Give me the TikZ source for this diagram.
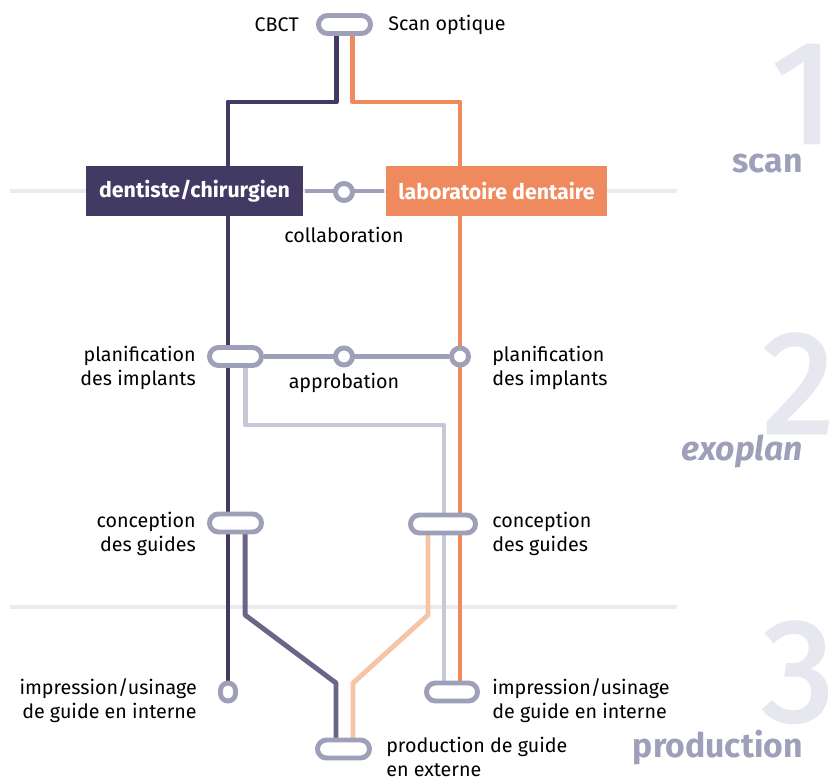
\documentclass[tikz,border=0pt]{standalone}
\usepackage{fontspec}
\setmainfont{Fira Sans}
\newfontfamily\numfont{Fira Sans}[FakeBold=2]
\usetikzlibrary{calc,backgrounds}

\definecolor{dentcol}{HTML}{433A64}
\definecolor{labcol}{HTML}{EF8A5F}
\definecolor{stopcol}{HTML}{9EA0B9}
\definecolor{plancol}{HTML}{C6C7D7}
\definecolor{guidecol}{HTML}{6E6389}
\definecolor{extcol}{HTML}{F8C4A6}
\definecolor{sepcol}{HTML}{EAEAF0}
\definecolor{numcol}{HTML}{E7E7EF}

\begin{document}
\begin{tikzpicture}[x=0.025cm,y=-0.025cm,line width=3.5pt,
    track/.style={line width=3.5pt,line join=round},
    pill/.style={rectangle,draw=stopcol,fill=white,rounded corners=0.225cm,minimum width=1.3cm,minimum height=0.45cm,inner sep=0pt},
    stopc/.style={circle,draw=stopcol,fill=white,minimum size=0.425cm,inner sep=0pt},
    box/.style={rectangle,minimum height=1.25cm,inner sep=0pt,text=white,font=\fontsize{15.2}{18}\selectfont\bfseries},
    lbl/.style={font=\fontsize{14}{17}\selectfont,inner sep=0pt},
    phase/.style={font=\fontsize{24}{24}\selectfont\bfseries,text=stopcol,inner sep=0pt,anchor=base east},
    bignum/.style={font=\fontsize{104}{104}\numfont,text=numcol,inner sep=0pt,text depth=0pt,anchor=base east}]

            \useasboundingbox (0,0) rectangle (840,780);

            % stations
            \path   (344.5,24.5) node (cbct) [pill] {}
                    (194.5,191) node (dent) [box,fill=dentcol,minimum width=5.425cm] {dentiste/chirurgien}
                    (496.5,191) node (labo) [box,fill=labcol,minimum width=5.525cm] {laboratoire dentaire}
                    (344,192) node (collab) [stopc] {}
                    (235.5,356.5) node (plana) [pill] {}
                    (344,356.5) node (approb) [stopc] {}
                    (460,356.5) node (planb) [stopc] {}
                    (235.5,523) node (conca) [pill] {}
                    (443,524) node (concb) [pill,minimum width=1.625cm] {}
                    (228,692) node (impa) [pill,minimum width=0.375cm,minimum height=0.45cm,rounded corners=0.1875cm] {}
                    (452,692) node (impb) [pill,minimum width=1.275cm] {}
                    (343.5,749) node (prod) [pill] {};

            \coordinate (dkbend) at (228,102);
            \coordinate (lbbend) at (460,102);
            \coordinate (plbend) at (444,425);
            \coordinate (gdbend) at (336,683);
            \coordinate (exbend) at (353,683);

            \begin{pgfonlayer}{background}
            % phases
            \draw[sepcol,line width=2.2pt] (10,191) -- (677,191);
            \draw[sepcol,line width=2.2pt] (10,607) -- (677,607);
            \path   (835,143) node (n1) [bignum] {1}
                    (835,433) node (n2) [bignum] {2}
                    (835,721) node (n3) [bignum] {3}
                    (803,173) node (scan) [phase] {scan}
                    (803,460) node (exo) [phase] {\itshape exoplan}
                    (803,757) node (prodph) [phase] {production};

            % lines
            \draw[track,stopcol] (node cs: name =dent) -- (node cs: name =labo);
            \draw[track,stopcol] (node cs: name =plana) -- (node cs: name =planb);
            \draw[track,plancol] ([xshift=0.24cm]plana.center) |- (plbend) -- (plbend |- impb.center);
            \draw[track,guidecol] ([xshift=0.24cm]conca.center) -- ++(0,92) -- (gdbend) -- (gdbend |- prod.center);
            \draw[track,extcol] ([xshift=-0.375cm]concb.center) -- ++(0,91) -- (exbend) -- (exbend |- prod.center);
            \draw[track,dentcol] ([xshift=-0.21cm]cbct.center) |- (dkbend) -- (impa.center);
            \draw[track,labcol] ([xshift=0.21cm]cbct.center) |- (lbbend) -- (lbbend |- impb.center);
            \end{pgfonlayer}

            % labels
            \path   (299,25) node (cbcttxt) [lbl,anchor=east] {CBCT}
                    (388,25) node (scantxt) [lbl,anchor=west] {Scan optique}
                    (344,235) node (collabtxt) [lbl] {collaboration}
                    (344,383) node (approbtxt) [lbl] {approbation}
                    (196,368) node (planatxt) [lbl,anchor=east,align=right] {planification\\des implants}
                    (492,368) node (planbtxt) [lbl,anchor=west,align=left] {planification\\des implants}
                    (196,534) node (concatxt) [lbl,anchor=east,align=right] {conception\\des guides}
                    (492,534) node (concbtxt) [lbl,anchor=west,align=left] {conception\\des guides}
                    (197,701) node (impatxt) [lbl,anchor=east,align=right] {impression/usinage\\de guide en interne}
                    (492,701) node (impbtxt) [lbl,anchor=west,align=left] {impression/usinage\\de guide en interne}
                    (386,757) node (prodtxt) [lbl,anchor=west,align=left] {production de guide\\en externe};
        \end{tikzpicture}
\end{document}
